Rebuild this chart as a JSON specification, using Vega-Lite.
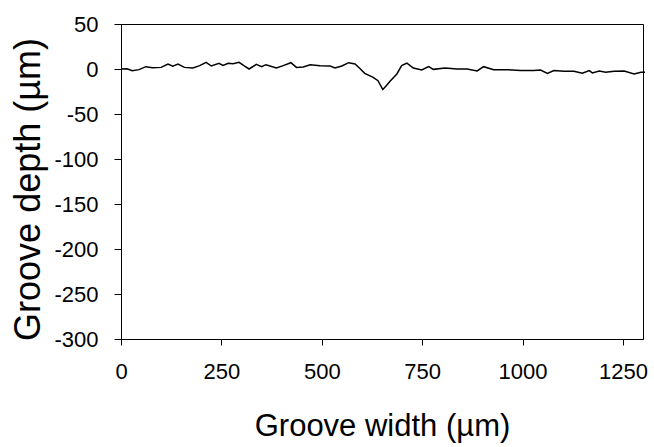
{
  "$schema": "https://vega.github.io/schema/vega-lite/v6.json",
  "autosize": "none",
  "width": 522,
  "height": 315,
  "padding": {"left": 121, "top": 24, "right": 11, "bottom": 108},
  "background": "white",
  "config": {
    "view": {"stroke": "black", "strokeWidth": 1},
    "font": "Liberation Sans"
  },
  "data": {
    "values": [
      {"x": 0, "y": 0}, {"x": 15, "y": 0.3}, {"x": 28, "y": -1.8}, {"x": 45, "y": -0.7},
      {"x": 62, "y": 2.6}, {"x": 78, "y": 1.5}, {"x": 100, "y": 1.8}, {"x": 117, "y": 5.5},
      {"x": 129, "y": 3}, {"x": 142, "y": 5.5}, {"x": 158, "y": 1.8}, {"x": 179, "y": 1.1},
      {"x": 196, "y": 3.7}, {"x": 212, "y": 7.4}, {"x": 225, "y": 3.3}, {"x": 244, "y": 6.3},
      {"x": 254, "y": 4}, {"x": 267, "y": 6.3}, {"x": 279, "y": 5.9}, {"x": 294, "y": 7.4},
      {"x": 306, "y": 3.7}, {"x": 319, "y": 0}, {"x": 337, "y": 5.2}, {"x": 350, "y": 2.6},
      {"x": 361, "y": 4.8}, {"x": 387, "y": 1.1}, {"x": 404, "y": 3.7}, {"x": 423, "y": 7},
      {"x": 437, "y": 1.8}, {"x": 454, "y": 2.2}, {"x": 471, "y": 4.8}, {"x": 496, "y": 3.7},
      {"x": 521, "y": 3.3}, {"x": 533, "y": 1.1}, {"x": 550, "y": 3.3}, {"x": 567, "y": 7},
      {"x": 583, "y": 5.5}, {"x": 595, "y": 0.5}, {"x": 607, "y": -4.8}, {"x": 628, "y": -9.2},
      {"x": 640, "y": -13}, {"x": 652, "y": -22.8}, {"x": 660, "y": -19}, {"x": 670, "y": -13.6},
      {"x": 687, "y": -5.5}, {"x": 699, "y": 3.7}, {"x": 712, "y": 6.6}, {"x": 728, "y": 1.1},
      {"x": 749, "y": -1.1}, {"x": 766, "y": 2.6}, {"x": 778, "y": -0.4}, {"x": 807, "y": 1.1},
      {"x": 837, "y": 0}, {"x": 862, "y": 0}, {"x": 887, "y": -2.2}, {"x": 903, "y": 2.6},
      {"x": 928, "y": -0.7}, {"x": 962, "y": -0.7}, {"x": 995, "y": -1.8}, {"x": 1028, "y": -1.8},
      {"x": 1045, "y": -1.1}, {"x": 1062, "y": -4.8}, {"x": 1078, "y": -1.8}, {"x": 1103, "y": -2.6},
      {"x": 1128, "y": -2.6}, {"x": 1149, "y": -4.8}, {"x": 1166, "y": -1.8}, {"x": 1174, "y": -4.4},
      {"x": 1191, "y": -2.2}, {"x": 1207, "y": -3.7}, {"x": 1228, "y": -2.6}, {"x": 1253, "y": -2.2},
      {"x": 1278, "y": -5.5}, {"x": 1295, "y": -3.7}, {"x": 1305, "y": -3.7}
    ]
  },
  "mark": {"type": "line", "color": "black", "strokeWidth": 1.5, "clip": false},
  "encoding": {
    "x": {
      "field": "x", "type": "quantitative",
      "scale": {"domain": [0, 1300], "nice": false, "zero": false},
      "axis": {
        "title": "Groove width (µm)",
        "values": [0, 250, 500, 750, 1000, 1250],
        "labelExpr": "datum.value + ''",
        "grid": false,
        "domainColor": "black", "domainWidth": 1,
        "tickColor": "black", "tickSize": 6, "tickWidth": 1,
        "labelFont": "Liberation Sans", "labelFontSize": 22, "labelColor": "black",
        "labelPadding": 16, "labelFlush": false,
        "titleFont": "Liberation Sans", "titleFontSize": 31, "titleFontWeight": "normal",
        "titleColor": "black", "titleBaseline": "alphabetic", "titleY": 96
      }
    },
    "y": {
      "field": "y", "type": "quantitative",
      "scale": {"domain": [-300, 50], "nice": false},
      "axis": {
        "title": "Groove depth (µm)",
        "values": [-300, -250, -200, -150, -100, -50, 0, 50],
        "labelExpr": "datum.value + ''",
        "grid": false,
        "domainColor": "black", "domainWidth": 1,
        "tickColor": "black", "tickSize": 7, "tickWidth": 1,
        "labelFont": "Liberation Sans", "labelFontSize": 22, "labelColor": "black",
        "labelPadding": 16,
        "titleFont": "Liberation Sans", "titleFontSize": 36, "titleFontWeight": "normal",
        "titleColor": "black", "titleAngle": -90, "titleAlign": "center",
        "titleBaseline": "alphabetic", "titleX": -82, "titleY": 165
      }
    }
  }
}
